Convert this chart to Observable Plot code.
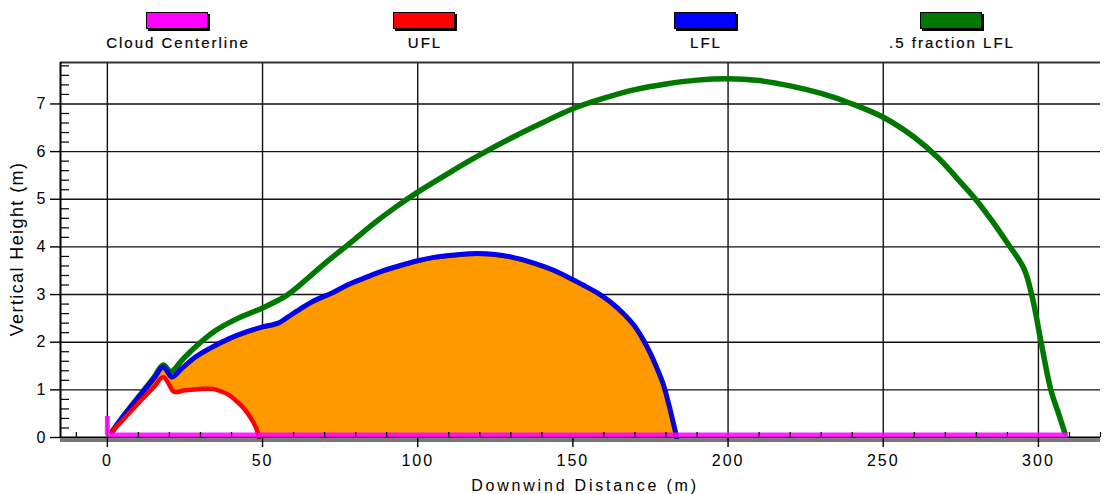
<!DOCTYPE html>
<html><head><meta charset="utf-8">
<script src="https://cdn.jsdelivr.net/npm/d3@7"></script>
<script src="https://cdn.jsdelivr.net/npm/@observablehq/plot@0.6"></script>
<style>
body{margin:0;background:#fff;}
#wrap{position:relative;width:1104px;height:494px;overflow:hidden;background:#fff;}
#wrap svg{position:absolute;left:0;top:0;}
.sw{position:absolute;top:12px;width:60px;height:15px;border:1px solid #000;box-shadow:2px 2px 0 #000;}
.lab{position:absolute;top:35px;white-space:nowrap;transform:translateX(-50%);font-family:"Liberation Sans",Arial,sans-serif;font-size:15px;letter-spacing:2px;color:#000;line-height:16px;-webkit-text-stroke:0.2px #000;}
.xt{position:absolute;top:477px;left:585px;transform:translateX(-50%);white-space:nowrap;font-family:"Liberation Sans",Arial,sans-serif;font-size:16px;letter-spacing:2.8px;line-height:18px;}
.yt{position:absolute;left:17px;top:249px;transform:translate(-50%,-50%) rotate(-90deg);white-space:nowrap;font-family:"Liberation Sans",Arial,sans-serif;font-size:18px;letter-spacing:1.4px;line-height:20px;}
g[aria-label="x-axis tick label"] text{letter-spacing:2px;}
</style>
</head><body>
<div id="wrap"></div>
<script>
// ---- data ----
const seriesNames = ["Cloud Centerline", "UFL", "LFL", ".5 fraction LFL"];
const seriesColors = ["#ff00ff", "#ff0000", "#0000ff", "#007800"];

const xTicks = [0, 50, 100, 150, 200, 250, 300];
const yTicks = [0, 1, 2, 3, 4, 5, 6, 7];
const xMinorTicks = [-10, 10, 20, 30, 40, 60, 70, 80, 90, 110, 120, 130, 140, 160, 170, 180, 190, 210, 220, 230, 240, 260, 270, 280, 290, 310, 320];
const yMinorTicks = [0.2, 0.4, 0.6, 0.8, 1.2, 1.4, 1.6, 1.8, 2.2, 2.4, 2.6, 2.8, 3.2, 3.4, 3.6, 3.8, 4.2, 4.4, 4.6, 4.8, 5.2, 5.4, 5.6, 5.8, 6.2, 6.4, 6.6, 6.8, 7.2, 7.4, 7.6, 7.8];
const xDomain = [-15.1, 320];
const yDomain = [0, 7.87];

const centerX = [0, 0, 0.8, 309.5];
const centerY = [0.45, 0.08, 0.05, 0.05];

const uflX = [1.5, 5, 10, 15, 18, 20, 21.4, 25, 30, 34, 37, 39.5, 41.3, 43, 44.5, 46, 47.2, 48.2, 48.8];
const uflY = [0.12, 0.37, 0.72, 1.06, 1.27, 1.1, 0.96, 0.99, 1.02, 1.02, 0.96, 0.88, 0.78, 0.68, 0.57, 0.43, 0.3, 0.15, 0.0];

const lflX = [1.5, 5, 10, 15, 18, 20.8, 24, 28.4, 33, 39.1, 45, 50, 55, 58, 61, 66, 72.9, 78, 83.7, 89, 94.4, 100, 105.2, 112, 119, 125, 130, 137.4, 143, 148, 153, 158, 162, 166, 169.5, 172.5, 175, 177.3, 179.2, 180.8, 182.2, 183.1, 183.4];
const lflY = [0.12, 0.43, 0.84, 1.24, 1.48, 1.27, 1.45, 1.69, 1.87, 2.07, 2.22, 2.32, 2.4, 2.52, 2.65, 2.85, 3.05, 3.22, 3.37, 3.5, 3.61, 3.71, 3.78, 3.83, 3.86, 3.84, 3.79, 3.66, 3.53, 3.38, 3.21, 3.03, 2.85, 2.62, 2.37, 2.07, 1.76, 1.42, 1.1, 0.72, 0.35, 0.1, 0.0];

const halfX = [1.5, 5, 10, 15, 18, 20.5, 24, 28, 35, 42, 50, 57, 62, 70, 78, 86, 93, 100, 110, 120, 130, 140, 150, 160, 170, 180, 190, 200, 210, 220, 230, 240, 250, 260, 268, 275, 280, 285, 290, 295.3, 298, 301, 304, 306.5, 308.5];
const halfY = [0.12, 0.44, 0.85, 1.26, 1.52, 1.38, 1.62, 1.88, 2.25, 2.5, 2.72, 2.95, 3.2, 3.65, 4.07, 4.5, 4.84, 5.15, 5.55, 5.93, 6.28, 6.6, 6.9, 7.12, 7.3, 7.42, 7.5, 7.53, 7.49, 7.38, 7.22, 7.0, 6.72, 6.3, 5.85, 5.35, 4.98, 4.55, 4.08, 3.55, 2.95, 1.95, 1.0, 0.5, 0.1];

// ---- build ----
const zip = (xs, ys) => xs.map((x, i) => ({x, y: ys[i]}));
const center = zip(centerX, centerY);
const ufl = zip(uflX, uflY);
const lfl = zip(lflX, lflY);
const half = zip(halfX, halfY);

const font = "Liberation Sans, Arial, sans-serif";
const curve = "catmull-rom";

const chart = Plot.plot({
  width: 1104,
  height: 494,
  marginTop: 62,
  marginBottom: 57,
  marginLeft: 60,
  marginRight: 4,
  x: {domain: xDomain},
  y: {domain: yDomain},
  style: {background: "transparent", overflow: "visible"},
  marks: [
    Plot.ruleX(xTicks, {stroke: "#111", strokeWidth: 1.4}),
    Plot.ruleY(yTicks.filter(d => d > 0), {stroke: "#111", strokeWidth: 1.4}),
    Plot.areaY(lfl, {x: "x", y: "y", fill: "#ff9900", curve}),
    Plot.areaY(ufl, {x: "x", y: "y", fill: "#ffffff", curve}),
    Plot.line(half, {x: "x", y: "y", stroke: seriesColors[3], strokeWidth: 5.5, curve}),
    Plot.line(lfl, {x: "x", y: "y", stroke: seriesColors[2], strokeWidth: 5, curve}),
    Plot.line(lfl, {x: "x", y: "y", stroke: "#3a1800", strokeWidth: 1, dy: 2, strokeOpacity: 0.7, curve}),
    Plot.line(ufl, {x: "x", y: "y", stroke: seriesColors[1], strokeWidth: 4.5, curve}),
    Plot.ruleY([0], {stroke: "#777", strokeWidth: 3, dy: 3}),
    Plot.ruleY([0], {stroke: "#000", strokeWidth: 2}),
    Plot.line(center, {x: "x", y: "y", stroke: seriesColors[0], strokeWidth: 5, strokeLinecap: "butt", strokeOpacity: 0.85}),
    Plot.ruleY([yDomain[1]], {stroke: "#333", strokeWidth: 2}),
    Plot.ruleX([xDomain[0]], {stroke: "#000", strokeWidth: 2}),
    Plot.axisX(xMinorTicks, {tickSize: -5, text: null, label: null, strokeWidth: 1.2}),
    Plot.axisY(yMinorTicks, {tickSize: -9, text: null, label: null, strokeWidth: 1.2}),
    Plot.axisX(xTicks, {tickSize: 10, tickPadding: 7, label: null, fontSize: 16, fontFamily: font, strokeWidth: 1.4}),
    Plot.axisY(yTicks, {tickSize: 10, tickPadding: 5, label: null, fontSize: 16, fontFamily: font, strokeWidth: 1.4})
  ]
});

const wrap = document.getElementById("wrap");
wrap.appendChild(chart);

// legend (layout)
const legendCenters = [177, 424, 705, 951];
seriesNames.forEach((name, i) => {
  const sw = document.createElement("div");
  sw.className = "sw";
  sw.style.left = (legendCenters[i] - 31) + "px";
  sw.style.background = seriesColors[i];
  wrap.appendChild(sw);
  const lab = document.createElement("div");
  lab.className = "lab";
  lab.style.left = (legendCenters[i] + 1) + "px";
  lab.textContent = name;
  wrap.appendChild(lab);
});
const xt = document.createElement("div");
xt.className = "xt"; xt.textContent = "Downwind Distance (m)";
wrap.appendChild(xt);
const yt = document.createElement("div");
yt.className = "yt"; yt.textContent = "Vertical Height (m)";
wrap.appendChild(yt);
</script>
</body></html>
